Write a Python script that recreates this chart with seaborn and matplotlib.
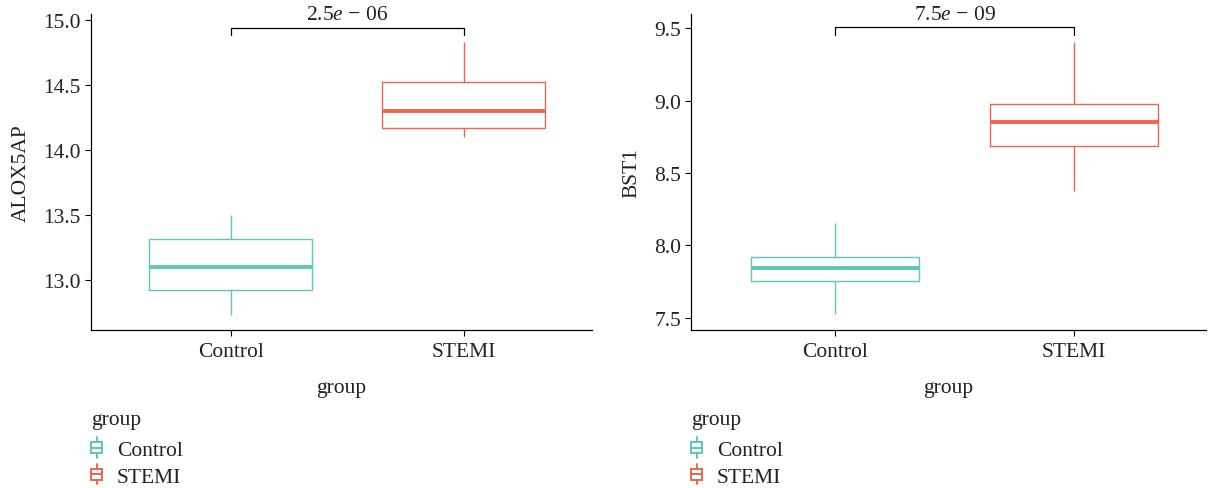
import pandas as pd
import seaborn as sns
import matplotlib.pyplot as plt
from matplotlib.legend_handler import HandlerBase
from matplotlib.patches import Rectangle, Patch
from matplotlib.lines import Line2D

# grupper og farger
groups = ["Control", "STEMI"]
colors = ["#5CC5BD", "#F0654B"]

# fem-tallsoppsummering (min, q1, median, q3, maks) lest av figuren
alox5ap_control = [12.725, 12.918, 13.097, 13.31, 13.495]
alox5ap_stemi = [14.10, 14.17, 14.30, 14.52, 14.825]
bst1_control = [7.526, 7.752, 7.844, 7.92, 8.157]
bst1_stemi = [8.378, 8.684, 8.853, 8.977, 9.406]

# p-verdier
p_alox5ap = "2.5$\\mathit{e}$ − 06"
p_bst1 = "7.5$\\mathit{e}$ − 09"

sns.set_style("white")
plt.rcParams['font.family'] = ['Liberation Serif', 'DejaVu Serif']
plt.rcParams['mathtext.fontset'] = 'custom'
plt.rcParams['mathtext.it'] = 'Liberation Serif:italic'
plt.rcParams['mathtext.rm'] = 'Liberation Serif'

FS = 15.5
TXT = "#222222"


class BoxHandler(HandlerBase):
    def create_artists(self, legend, orig_handle, xdescent, ydescent,
                       width, height, fontsize, trans):
        c = orig_handle.get_edgecolor()
        cx = -xdescent + width / 2
        cy = -ydescent + height / 2
        bw, bh = 8, 8
        rect = Rectangle((cx - bw / 2, cy - bh / 2), bw, bh, facecolor="white",
                         edgecolor=c, lw=1.4, transform=trans)
        med = Line2D([cx - bw / 2, cx + bw / 2], [cy, cy], color=c, lw=1.4, transform=trans)
        w1 = Line2D([cx, cx], [cy + bh / 2, cy + bh / 2 + 3.5], color=c, lw=1.4, transform=trans)
        w2 = Line2D([cx, cx], [cy - bh / 2, cy - bh / 2 - 3.5], color=c, lw=1.4, transform=trans)
        return [rect, med, w1, w2]


def panel(ax, ctrl, stemi, ylab, ylim, yticks, bracket, ptxt):
    df = pd.DataFrame({
        "group": ["Control"] * len(ctrl) + ["STEMI"] * len(stemi),
        "value": ctrl + stemi,
    })
    sns.boxplot(data=df, x="group", y="value", hue="group", palette=colors,
                fill=False, width=0.7, whis=(0, 100), showcaps=False,
                linewidth=1.0, medianprops=dict(linewidth=2.8),
                legend=False, ax=ax)
    ax.set_xlim(-0.6, 1.55)
    ax.set_ylim(*ylim)
    ax.set_yticks(yticks)
    ax.set_yticklabels([f"{t:.1f}" for t in yticks])
    ax.set_ylabel(ylab, fontsize=FS, color=TXT, labelpad=9)
    ax.set_xlabel("group", fontsize=FS, color=TXT, labelpad=12)
    ax.tick_params(axis="both", labelsize=FS, labelcolor=TXT, length=4,
                   width=0.8, color="black", pad=3, left=True, bottom=True)
    ax.tick_params(axis="x", pad=5)
    for s in ["top", "right"]:
        ax.spines[s].set_visible(False)
    for s in ["left", "bottom"]:
        ax.spines[s].set_color("black")
        ax.spines[s].set_linewidth(0.9)
    # signifikansklamme
    y0, y1 = bracket
    ax.plot([0, 0, 1, 1], [y0, y1, y1, y0], color="black", lw=0.9, clip_on=False)
    ax.text(0.5, y1 + (ylim[1] - ylim[0]) * 0.012, ptxt, ha="center", va="bottom",
            fontsize=FS, color=TXT)


fig = plt.figure(figsize=(12.13, 4.89), dpi=100)
W, H = 1213, 489
bottom = 1 - 330.7 / H
height = (330.7 - 15) / H
ax1 = fig.add_axes([90.7 / W, bottom, (592 - 90.7) / W, height])
ax2 = fig.add_axes([691 / W, bottom, (1206 - 691) / W, height])

panel(ax1, alox5ap_control, alox5ap_stemi, "ALOX5AP", (12.615, 15.044),
      [13.0, 13.5, 14.0, 14.5, 15.0], (14.882, 14.936), p_alox5ap)
panel(ax2, bst1_control, bst1_stemi, "BST1", (7.419, 9.597),
      [7.5, 8.0, 8.5, 9.0, 9.5], (9.452, 9.505), p_bst1)

handles = [Patch(facecolor="white", edgecolor=c) for c in colors]
for x0 in [88 / W, 688 / W]:
    fig.text(x0 + 3 / W, 1 - 421 / H, "group", ha="left", va="center",
             fontsize=FS, color=TXT)
    leg = fig.legend(handles, groups, loc="upper left",
                     bbox_to_anchor=(x0, 1 - 441 / H), frameon=False,
                     fontsize=FS, handler_map={Patch: BoxHandler()},
                     handlelength=0.8, handletextpad=0.55, labelspacing=0.3,
                     borderpad=0, borderaxespad=0)
    for t in leg.get_texts():
        t.set_color(TXT)

fig.savefig("out.png", dpi=100)
